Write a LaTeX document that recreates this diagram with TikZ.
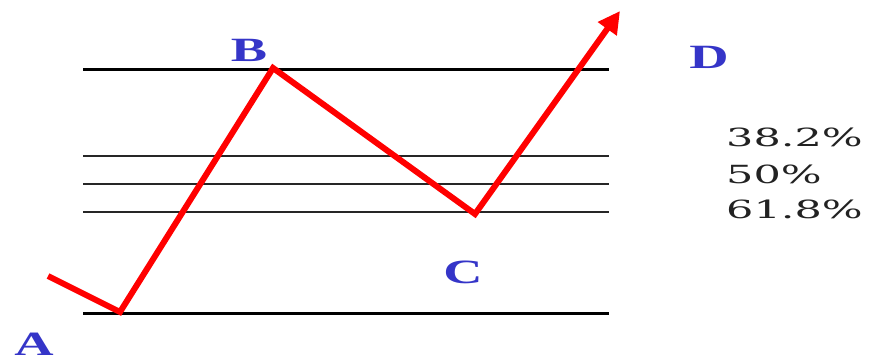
\documentclass[tikz,border=0pt]{standalone}
\usepackage{fontspec}
\setmainfont{Liberation Serif}
\newfontfamily\pctfont{DejaVu Serif}
\usetikzlibrary{arrows.meta}
\definecolor{lblblue}{HTML}{3535C8}
\definecolor{pctgray}{HTML}{222222}
\tikzset{
  thickline/.style={line width=3pt, black},
  thinline/.style={line width=1.6pt, black!85},
  redpath/.style={line width=6pt, red, line join=miter},
  ptlabel/.style={text=lblblue, font=\fontsize{34}{34}\selectfont\bfseries, inner sep=0pt},
  pctlabel/.style={text=pctgray, font=\pctfont\fontsize{25}{25}\selectfont, inner sep=0pt, anchor=west},
}
\begin{document}
\begin{tikzpicture}[x=1pt,y=-1pt]
\useasboundingbox (0,0) rectangle (869,362);
% horizontal levels
\coordinate (L0a) at (83,69);  \coordinate (L0b) at (609,69);
\coordinate (L1a) at (83,156); \coordinate (L1b) at (609,156);
\coordinate (L2a) at (83,184); \coordinate (L2b) at (609,184);
\coordinate (L3a) at (83,212); \coordinate (L3b) at (609,212);
\coordinate (L4a) at (83,313); \coordinate (L4b) at (609,313);
\draw[thickline] (L0a) -- (L0b);
\draw[thinline] (L1a) -- (L1b);
\draw[thinline] (L2a) -- (L2b);
\draw[thinline] (L3a) -- (L3b);
\draw[thickline] (L4a) -- (L4b);
% price path
\coordinate (S) at (48,276);
\coordinate (Apt) at (120,312);
\coordinate (Bpt) at (273,68);
\coordinate (Cpt) at (475,214);
\coordinate (Dpt) at (620,11);
\draw[redpath, -{Triangle[length=22pt,width=22pt]}] (S) -- (Apt) -- (Bpt) -- (Cpt) -- (Dpt);
% labels
\node[ptlabel] (A) at (34,344) {\scalebox{1.6}[1]{A}};
\node[ptlabel] (B) at (249,50) {\scalebox{1.6}[1]{B}};
\node[ptlabel] (C) at (463,272) {\scalebox{1.6}[1]{C}};
\node[ptlabel] (D) at (709,57) {\scalebox{1.6}[1]{D}};
\node[pctlabel] (p1) at (726,137) {\scalebox{1.72}[1]{38.2\%}};
\node[pctlabel] (p2) at (726,174) {\scalebox{1.72}[1]{50\%}};
\node[pctlabel] (p3) at (726,209) {\scalebox{1.72}[1]{61.8\%}};
\end{tikzpicture}
\end{document}
